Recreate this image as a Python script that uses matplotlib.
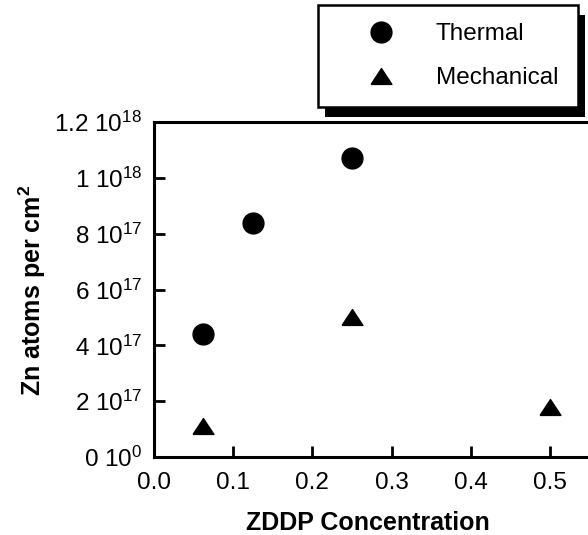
"""
Zn surface coverage versus ZDDP concentration, thermal and mechanical films.
"""

###########
# Imports #
###########

import numpy as np
import matplotlib
matplotlib.use("Agg")
import matplotlib.pyplot as plt
from matplotlib.patches import Rectangle
from matplotlib.transforms import IdentityTransform

########
# Data #
########

thermal_conc = [0.0625, 0.125, 0.25]
thermal_zn = [4.40e17, 8.40e17, 1.07e18]

mechanical_conc = [0.0625, 0.25, 0.5]
mechanical_zn = [1.10e17, 5.03e17, 1.80e17]

x_ticks = [0.0, 0.1, 0.2, 0.3, 0.4, 0.5]
x_tick_labels = ["0.0", "0.1", "0.2", "0.3", "0.4", "0.5"]
y_ticks = [0.0, 2e17, 4e17, 6e17, 8e17, 1e18, 1.2e18]
y_tick_labels = [r"0 10$^{0}$", r"2 10$^{17}$", r"4 10$^{17}$", r"6 10$^{17}$",
                 r"8 10$^{17}$", r"1 10$^{18}$", r"1.2 10$^{18}$"]

#########
# Style #
#########

plt.rcParams["font.family"] = ["Liberation Sans", "DejaVu Sans"]
plt.rcParams["mathtext.fontset"] = "custom"
plt.rcParams["mathtext.rm"] = "Liberation Sans"
plt.rcParams["mathtext.bf"] = "Liberation Sans:bold"
plt.rcParams["mathtext.default"] = "regular"

tick_size = 17.5
label_size = 18
W, H = 588, 535

# Triangle wider than tall, like the reference
tri_marker = [(-1.0, -0.76), (1.0, -0.76), (0.0, 0.76), (-1.0, -0.76)]

########
# Plot #
########

fig = plt.figure(figsize=(W / 100, H / 100), dpi=100)
ax = fig.add_axes([154 / W, 78 / H, 475 / W, 335 / H])

ax.plot(thermal_conc, thermal_zn, linestyle="none", marker="o",
        markersize=15, color="black", label="Thermal", clip_on=False)
ax.plot(mechanical_conc, mechanical_zn, linestyle="none", marker=tri_marker,
        markersize=15, color="black", label="Mechanical", clip_on=False)

ax.set_xlim(0, 0.6)
ax.set_ylim(0, 1.2e18)
ax.set_xticks(x_ticks)
ax.set_xticklabels(x_tick_labels)
ax.set_yticks(y_ticks)
ax.set_yticklabels(y_tick_labels)

ax.tick_params(direction="in", length=8, width=2, labelsize=tick_size)
ax.tick_params(axis="x", pad=11)
ax.tick_params(axis="y", pad=8.5)
ax.spines["right"].set_visible(False)
for side in ["left", "bottom", "top"]:
    ax.spines[side].set_linewidth(2.2)

# Axis labels
fig.text(368 / W, 5 / H, "ZDDP Concentration", fontsize=label_size,
         fontweight="bold", ha="center", va="baseline")
fig.text(41 / W, 1 - 290 / H, r"Zn atoms per cm$^{\bf 2}$", fontsize=label_size,
         fontweight="bold", rotation=90, rotation_mode="anchor",
         ha="center", va="baseline")

# Legend with a hard black shadow
leg = fig.legend(loc="upper left",
                 bbox_to_anchor=(318 / W, 1 - 5 / H - 0.3, 260 / W, 0.3),
                 mode="expand", borderaxespad=0, fontsize=17.5, fancybox=False,
                 edgecolor="black", framealpha=1, borderpad=0.75,
                 handlelength=3.7, handletextpad=0.4, labelspacing=0.9,
                 numpoints=1)
leg.get_frame().set_linewidth(1.8)

fig.canvas.draw()
box = leg.get_window_extent()
shadow = Rectangle((box.x0 + 7, box.y0 - 10), box.width, box.height,
                   transform=IdentityTransform(), facecolor="black",
                   edgecolor="none", zorder=leg.get_zorder() - 1)
fig.add_artist(shadow)

fig.savefig("out.png", dpi=100)
